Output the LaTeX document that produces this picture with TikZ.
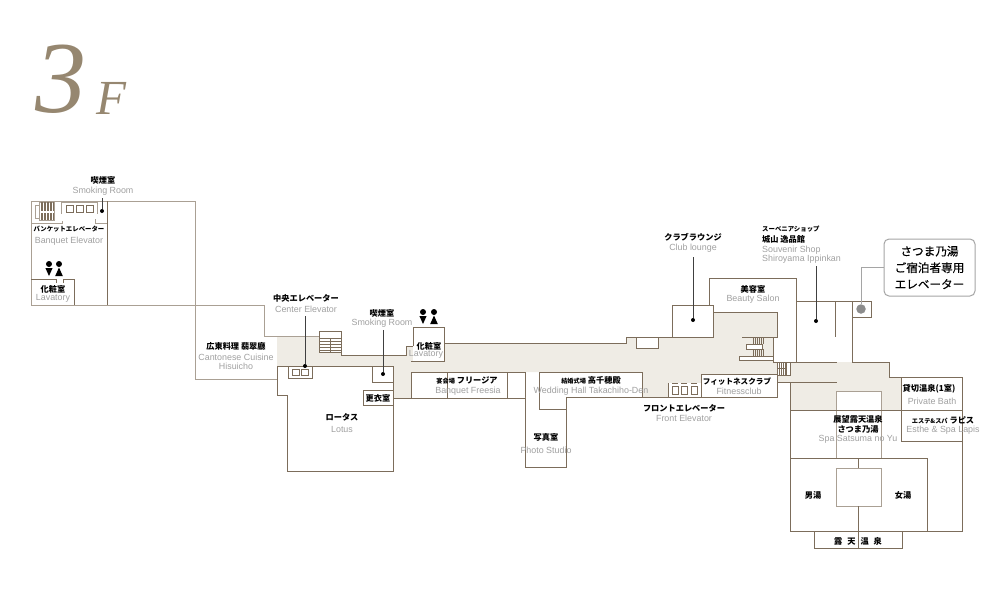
\documentclass[tikz,border=0pt]{standalone}
\usepackage{fontspec}
\setmainfont{Liberation Sans}
\newfontfamily\titlefont{Liberation Serif}
\newfontfamily\jafont{Noto Sans CJK JP}
\newfontfamily\jamedium[FakeBold=0.4]{Noto Sans CJK JP}
\usepackage{xcolor}
\definecolor{walldark}{RGB}{124,109,91}
\definecolor{wallpale}{RGB}{170,160,148}
\definecolor{floorbeige}{RGB}{239,236,229}
\definecolor{titlebrown}{RGB}{150,135,112}
\definecolor{engrey}{RGB}{160,160,160}
\definecolor{boxgrey}{RGB}{165,165,165}
\newcommand{\smallja}{\fontsize{6.2}{7}\selectfont}
\tikzstyle{wall} = [line width=1pt,color=walldark]
\tikzstyle{palewall} = [line width=1pt,color=wallpale]
\tikzstyle{room} = [line width=1pt,draw=walldark,fill=white]
\tikzstyle{hatch} = [line width=0.6pt,color=walldark]
\tikzstyle{leader} = [line width=0.8pt,color=black!75]
\tikzstyle{dotmark} = [circle,fill=black,inner sep=0pt,minimum size=4pt]
\tikzstyle{jatext} = [inner sep=0pt,font=\jafont\bfseries\fontsize{8.2}{9}\selectfont]
\tikzstyle{jasmall} = [inner sep=0pt,font=\jafont\bfseries\fontsize{6.4}{7}\selectfont]
\tikzstyle{entext} = [inner sep=0pt,text=engrey,font=\fontsize{8.9}{10}\selectfont]
\tikzset{
  maleicon/.pic={\fill[black] (0,0) circle (3); \fill[black] (-3.6,4) -- (3.6,4) -- (0,12) -- cycle;},
  femaleicon/.pic={\fill[black] (0,0) circle (3); \fill[black] (0,3.5) -- (3.8,12) -- (-3.8,12) -- cycle;}
}

\begin{document}
\begin{tikzpicture}[x=1pt,y=-1pt]
    \useasboundingbox (0,0) rectangle (1000,600);

    % Title
    \node[inner sep=0pt,text=titlebrown,font=\titlefont\itshape\fontsize{102}{102}\selectfont] (titlenum) at (61,79) {3};
    \node[inner sep=0pt,text=titlebrown,font=\titlefont\itshape\fontsize{49}{49}\selectfont] (titlef) at (111,98) {F};

    % Corridor floor
    \fill[floorbeige] (277,336) -- (319,336) -- (319,352) -- (341,352) -- (341,355) -- (406,355) -- (406,346) -- (413,346) -- (413,343) -- (626,343) -- (626,337) -- (713,337) -- (713,312) -- (777,312) -- (777,337) -- (773,337) -- (773,362) -- (889,362) -- (889,377) -- (901,377) -- (901,410) -- (881,410) -- (881,391) -- (836,391) -- (836,410) -- (790,410) -- (790,382) -- (777,382) -- (777,374) -- (701,374) -- (701,383) -- (668,383) -- (668,397) -- (642,397) -- (642,372) -- (411,372) -- (411,398) -- (393,398) -- (393,366) -- (277,366) -- cycle;

    % Banquet wing
    \draw[palewall] (107,201) -- (31,201) -- (31,305) -- (264,305) -- (264,336) -- (319,336);
    \draw[palewall] (107,201) -- (195,201) -- (195,379) -- (277,379);
    \draw[wall] (107,201) -- (107,305);
    \draw[wall] (277,366) -- (277,395) -- (287,395) -- (287,471) -- (393,471) -- (393,366) -- cycle;

    % Banquet wing stairs and elevators
    \draw[palewall] (35,205) rectangle (39,218);
    \draw[palewall] (39,202) rectangle (54,220);
    \foreach \x in {41,42.5,...,53} {
        \draw[hatch] (\x,202) -- (\x,211);
        \draw[hatch] (\x,213) -- (\x,220);
    }
    \draw[palewall] (61,214) -- (61,202) -- (97,202) -- (97,214);
    \foreach \x in {66,76,86} {
        \draw[wall] (\x,205) rectangle ++(7,7);
    }
    \draw[palewall] (31,223) -- (62,223) -- (62,221);
    \draw[palewall] (95,219) -- (95,223) -- (107,223);
    \draw[wall] (31,279) -- (56,279) -- (56,283);
    \draw[wall] (63,283) -- (63,279) -- (74,279) -- (74,305);
    \pic at (49,264) {maleicon};
    \pic at (59,264) {femaleicon};

    % Center stairs and rooms
    \draw[room] (319,331) rectangle (341,352);
    \draw[wall] (319,338) -- (341,338);
    \foreach \y in {341,344,...,350} {
        \draw[hatch] (319,\y) -- (341,\y);
    }
    \draw[wall] (330,338) -- (330,352);
    \draw[wall] (341,352) -- (341,355) -- (406,355) -- (406,346) -- (413,346);
    \draw[room] (288,366) rectangle (312,378);
    \draw[wall] (292,369) rectangle ++(7,6);
    \draw[wall] (301,369) rectangle ++(7,6);
    \draw[room] (372,366) rectangle (393,382);
    \draw[room] (363,390) rectangle (393,405);
    \fill[white] (413,327) rectangle (444,361);
    \draw[wall] (413,346) -- (413,327) -- (444,327) -- (444,361) -- (411,361);
    \pic at (423,312) {maleicon};
    \pic at (434,312) {femaleicon};

    % Main corridor walls
    \draw[wall] (444,343) -- (626,343) -- (626,337) -- (672,337);
    \draw[room] (636,337) rectangle (658,348);
    \draw[wall] (393,398) -- (411,398);
    \draw[room] (411,372) rectangle (525,398);
    \draw[wall] (447,372) -- (447,398);
    \draw[wall] (507,372) -- (507,398);
    \draw[room] (525,398) -- (525,467) -- (566,467) -- (566,397);
    \draw[room] (539,372) -- (642,372) -- (642,397) -- (566,397) -- (566,409) -- (539,409) -- cycle;
    \draw[wall] (642,397) -- (668,397);
    \draw[wall] (566,397) -- (777,397);
    \fill[white] (668,383) rectangle (701,397);
    \draw[wall] (668,383) -- (668,397) -- (701,397);
    \foreach \x in {672,681,691} {
        \draw[wall] (\x,386) rectangle ++(6,8);
        \draw[wall] (\x,383.5) -- ++(6,0);
    }
    \draw[room] (701,374) rectangle (777,397);

    % Club lounge and beauty salon
    \draw[room] (672,305) rectangle (713,337);
    \draw[wall] (709,305) -- (709,278) -- (796,278) -- (796,362) -- (773,362) -- (773,337);
    \draw[wall] (713,312) -- (777,312) -- (777,337) -- (742,337);

    % Right stairs
    \fill[white] (746,344) rectangle (762,349);
    \draw[wall] (746,344) rectangle (762,349);
    \fill[white] (739,356) rectangle (773,360);
    \draw[wall] (739,356) rectangle (773,360);
    \foreach \x in {753,755,...,763} {
        \draw[hatch] (\x,337) -- (\x,344);
        \draw[hatch] (\x,349) -- (\x,356);
    }
    \draw[room] (777,362) rectangle (790,375);
    \foreach \x in {779,781,...,785} {
        \draw[hatch] (\x,362) -- (\x,375);
    }
    \draw[hatch] (777,368) -- (786,368);
    \draw[wall] (786,362) -- (786,375);

    % Souvenir shop and spa elevator
    \draw[wall] (796,301) -- (871,301) -- (871,317) -- (852,317) -- (852,301);
    \draw[wall] (835,301) -- (835,337);
    \draw[wall] (852,317) -- (852,362) -- (889,362) -- (889,377) -- (962,377);
    \draw[wall] (796,362) -- (837,362);
    \draw[wall] (777,382) -- (837,382);
    \draw[wall] (777,374) -- (777,397);
    \draw[wall] (790,382) -- (790,531);

    % Spa
    \fill[white] (836,391) rectangle (881,410);
    \draw[palewall] (836,410) -- (836,391) -- (881,391) -- (881,410);
    \draw[palewall] (836,410) -- (836,458);
    \draw[palewall] (881,410) -- (881,458);
    \draw[wall] (901,377) -- (901,441) -- (962,441);
    \draw[wall] (790,410) -- (962,410);
    \draw[wall] (962,377) -- (962,531) -- (790,531);
    \draw[wall] (790,458) -- (927,458) -- (927,531);
    \draw[palewall] (836,468) rectangle (881,506);
    \draw[wall] (858,458) -- (858,468);
    \draw[wall] (858,506) -- (858,549);
    \draw[wall] (814,531) -- (814,548) -- (902,548) -- (902,531);

    % Leader lines
    \node[dotmark] (bqsmokedot) at (102,211) {};
    \coordinate (bqsmoketop) at (102,198);
    \draw[leader] (bqsmoketop) -- (bqsmokedot);
    \node[dotmark] (centerdot) at (305,366) {};
    \coordinate (centertop) at (305,316);
    \draw[leader] (centertop) -- (centerdot);
    \node[dotmark] (smokedot) at (383,374) {};
    \coordinate (smoketop) at (383,330);
    \draw[leader] (smoketop) -- (smokedot);
    \node[dotmark] (clubdot) at (693,320) {};
    \coordinate (clubtop) at (693,257);
    \draw[leader] (clubtop) -- (clubdot);
    \node[dotmark] (shopdot) at (816,321) {};
    \coordinate (shoptop) at (816,266);
    \draw[leader] (shoptop) -- (shopdot);

    % Spa elevator callout
    \node[rectangle, draw=boxgrey, fill=white, line width=1pt, rounded corners=5pt, minimum width=91pt, minimum height=57pt, inner sep=0pt, align=center, font=\jamedium\fontsize{11.6}{16.5}\selectfont] (spacallout) at (929.5,267.5) {さつま乃湯\\ご宿泊者専用\\エレベーター};
    \node[circle, fill=black!45, inner sep=0pt, minimum size=9.5pt] (spadot) at (861,309) {};
    \draw[line width=1pt,color=boxgrey] (spacallout.west) -| (spadot);

    % Labels, banquet wing
    \node[jatext] (smokeja) at (103,180) {喫煙室};
    \node[entext] (smokeen) at (103,191) {Smoking Room};
    \node[jasmall] (bqelevja) at (69,229) {バンケットエレベーター};
    \node[entext] (bqeleven) at (69,241) {Banquet Elevator};
    \node[jatext] (lavja) at (53,289) {化粧室};
    \node[entext] (laven) at (53,298) {Lavatory};
    \node[jatext] (cantonja) at (236,346) {広東料理 翡翠廳};
    \node[entext] (cantonen) at (236,357) {Cantonese Cuisine};
    \node[entext] (hisuien) at (236,366) {Hisuicho};

    % Labels, center
    \node[jatext] (centerja) at (306,298) {中央エレベーター};
    \node[entext] (centeren) at (306,309) {Center Elevator};
    \node[jatext] (smoke2ja) at (382,313) {喫煙室};
    \node[entext] (smoke2en) at (382,323) {Smoking Room};
    \node[jatext] (lav2ja) at (429,346) {化粧室};
    \node[entext] (lav2en) at (426,354) {Lavatory};
    \node[jatext] (lotusja) at (342,417) {ロータス};
    \node[entext] (lotusen) at (342,429) {Lotus};
    \node[jatext] (changeja) at (378,398) {更衣室};
    \node[jatext] (freesiaja) at (467,380) {{\smallja 宴会場} フリージア};
    \node[entext] (freesiaen) at (468,391) {Banquet Freesia};
    \node[jatext] (weddingja) at (591,380) {{\smallja 結婚式場} 高千穂殿};
    \node[entext] (weddingen) at (591,391) {Wedding Hall Takachiho-Den};
    \node[jatext] (photoja) at (546,437) {写真室};
    \node[entext] (photoen) at (546,450) {Photo Studio};
    \node[jatext] (frontja) at (684,408) {フロントエレベーター};
    \node[entext] (fronten) at (684,418) {Front Elevator};
    \node[jatext,font=\jafont\bfseries\fontsize{7.6}{9}\selectfont] (fitja) at (737,382) {フィットネスクラブ};
    \node[entext] (fiten) at (739,391) {Fitnessclub};

    % Labels, upper right
    \node[jatext] (clubja) at (693,237) {クラブラウンジ};
    \node[entext] (cluben) at (693,248) {Club lounge};
    \node[jatext] (beautyja) at (753,289) {美容室};
    \node[entext] (beautyen) at (753,299) {Beauty Salon};
    \node[jasmall,anchor=west] (shoptype) at (762,229) {スーベニアショップ};
    \node[jatext,anchor=west] (shopja) at (762,239) {城山 逸品館};
    \node[entext,anchor=west] (shopen) at (762,250) {Souvenir Shop};
    \node[entext,anchor=west] (shopname) at (762,259) {Shiroyama Ippinkan};

    % Labels, spa
    \node[jatext] (bathja) at (929,389) {貸切温泉(1室)};
    \node[entext] (bathen) at (932,401) {Private Bath};
    \node[jatext] (esteja) at (943,420) {{\smallja エステ\&スパ} ラピス};
    \node[entext] (esteen) at (943,430) {Esthe \& Spa Lapis};
    \node[jatext] (spaja) at (858,419) {展望露天温泉};
    \node[jatext] (spaname) at (858,429) {さつま乃湯};
    \node[entext] (spaen) at (858,439) {Spa Satsuma no Yu};
    \node[jatext] (menja) at (813,495) {男湯};
    \node[jatext] (womenja) at (903,495) {女湯};
    \node[jatext] (openairja) at (858,541) {露\hspace{5pt}天\hspace{5pt}温\hspace{5pt}泉};
\end{tikzpicture}
\end{document}
